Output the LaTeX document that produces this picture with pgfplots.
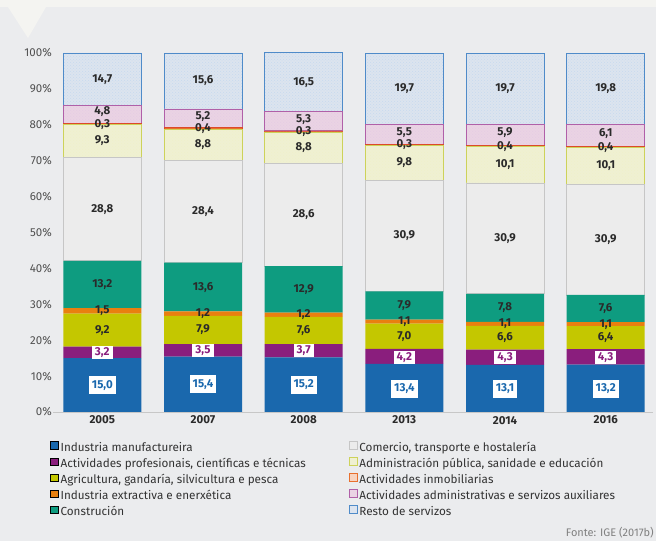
\documentclass[border=0pt]{standalone}
\usepackage{fontspec}
\setmainfont{Fira Sans}
\usepackage{pgfplots}
\pgfplotsset{compat=1.18}
\usetikzlibrary{patterns}

\definecolor{bg}{HTML}{EBECEE}
\definecolor{bgtop}{HTML}{F4F4F1}
\definecolor{cmanu}{HTML}{1A68AD}
\definecolor{cprof}{HTML}{8A1E7D}
\definecolor{cagri}{HTML}{C4C700}
\definecolor{cextr}{HTML}{E9800F}
\definecolor{ccons}{HTML}{0E9C80}
\definecolor{ccomf}{HTML}{ECECEC}
\definecolor{ccome}{HTML}{C6C6C6}
\definecolor{cadmf}{HTML}{EFF0D2}
\definecolor{cadme}{HTML}{CDD25A}
\definecolor{cinmf}{HTML}{E8702E}
\definecolor{cinme}{HTML}{DC4A2A}
\definecolor{cauxf}{HTML}{EAD3E4}
\definecolor{cauxe}{HTML}{B060A8}
\definecolor{cresf}{HTML}{DCE4EF}
\definecolor{crese}{HTML}{4F8BC9}
\definecolor{txt}{HTML}{2A2A2A}
\definecolor{ticktxt}{HTML}{505050}

\pgfplotsset{
  dotfill/.style 2 args={fill=#1, draw=#2, line width=0.9pt,
    postaction={pattern=crosshatch dots, pattern color=#2!32}},
  lbl/.style={draw=none, mark=none, forget plot, nodes near coords,
    point meta=explicit symbolic,
    every node near coord/.append style={anchor=center, inner sep=1pt,
      font=\fontsize{11.5}{13}\selectfont\bfseries, text=txt}},
  boxlbl/.style={draw=none, mark=none, forget plot, nodes near coords,
    point meta=explicit symbolic,
    every node near coord/.append style={anchor=center, fill=white,
      inner xsep=3pt, inner ysep=#1,
      font=\fontsize{11.5}{13}\selectfont\bfseries}},
}

\begin{document}
\begin{tikzpicture}[x=1pt,y=1pt]
\useasboundingbox (0,0) rectangle (656,541);
\fill[bg] (0,0) rectangle (656,541);
\fill[bgtop] (0,534) rectangle (656,541);
\fill[bgtop] (8,534) -- (46,534) -- (28,503) -- cycle;

\begin{axis}[
  at={(53pt,129pt)}, anchor=south west,
  scale only axis, width=600pt, height=359pt,
  xmin=-0.49, xmax=5.47, ymin=0, ymax=100,
  ybar stacked, bar width=78pt,
  separate axis lines,
  axis x line*=bottom, axis y line*=left,
  y axis line style={draw=none},
  x axis line style={-, draw=black!22, line width=0.8pt},
  major tick length=0pt,
  xtick={0,1,2,3,4,5},
  xticklabels={2005,2007,2008,2013,2014,2016},
  ytick={0,10,20,30,40,50,60,70,80,90,100},
  yticklabels={0\%,10\%,20\%,30\%,40\%,50\%,60\%,70\%,80\%,90\%,100\%},
  xticklabel style={font=\fontsize{11.5}{13}\selectfont\bfseries, text=txt, yshift=-0.5pt},
  yticklabel style={font=\fontsize{11.5}{13}\selectfont, text=ticktxt, inner sep=1pt},
  clip=false,
]
% Industria manufactureira
\addplot[fill=cmanu, draw=none] coordinates {(0,15.0) (1,15.4) (2,15.2) (3,13.4) (4,13.1) (5,13.2)};
% Actividades profesionais
\addplot[fill=cprof, draw=none] coordinates {(0,3.2) (1,3.5) (2,3.7) (3,4.2) (4,4.3) (5,4.3)};
% Agricultura
\addplot[fill=cagri, draw=none] coordinates {(0,9.2) (1,7.9) (2,7.6) (3,7.0) (4,6.6) (5,6.4)};
% Industria extractiva
\addplot[fill=cextr, draw=none] coordinates {(0,1.5) (1,1.2) (2,1.2) (3,1.1) (4,1.1) (5,1.1)};
% Construcion
\addplot[fill=ccons, draw=none] coordinates {(0,13.2) (1,13.6) (2,12.9) (3,7.9) (4,7.8) (5,7.6)};
% Comercio
\addplot[dotfill={ccomf}{ccome}] coordinates {(0,28.8) (1,28.4) (2,28.6) (3,30.9) (4,30.9) (5,30.9)};
% Administracion publica
\addplot[dotfill={cadmf}{cadme}] coordinates {(0,9.3) (1,8.8) (2,8.8) (3,9.8) (4,10.1) (5,10.1)};
% Actividades inmobiliarias
\addplot[fill=cinmf, draw=cinme, line width=0.6pt] coordinates {(0,0.3) (1,0.4) (2,0.3) (3,0.3) (4,0.4) (5,0.4)};
% Actividades administrativas
\addplot[dotfill={cauxf}{cauxe}] coordinates {(0,4.8) (1,5.2) (2,5.3) (3,5.5) (4,5.9) (5,6.1)};
% Resto de servizos
\addplot[dotfill={cresf}{crese}] coordinates {(0,14.7) (1,15.6) (2,16.5) (3,19.7) (4,19.7) (5,19.8)};
\end{axis}

\begin{axis}[
  at={(53pt,129pt)}, anchor=south west,
  scale only axis, width=600pt, height=359pt,
  xmin=-0.49, xmax=5.47, ymin=0, ymax=100,
  hide axis, clip=false,
  legend columns=2,
  legend cell align=left,
  legend style={at={(axis description cs:-0.005,-0.081)}, anchor=north west,
    draw=none, fill=none, inner sep=0pt, row sep=2.3pt,
    font=\fontsize{11.7}{13}\selectfont, text=black!80,
    nodes={inner xsep=2pt, inner ysep=1.5pt, text height=8pt, text depth=2.5pt}},
  legend image code/.code={\draw[#1] (0pt,-1.2pt) rectangle (8pt,6.6pt);},
]
\addlegendimage{fill=cmanu, draw=none}
\addlegendentry{\makebox[286pt][l]{Industria manufactureira}}
\addlegendimage{fill=ccomf, draw=ccome, line width=0.8pt}
\addlegendentry{Comercio, transporte e hostalería}
\addlegendimage{fill=cprof, draw=none}
\addlegendentry{\makebox[286pt][l]{Actividades profesionais, científicas e técnicas}}
\addlegendimage{fill=cadmf, draw=cadme, line width=0.8pt}
\addlegendentry{Administración pública, sanidade e educación}
\addlegendimage{fill=cagri, draw=none}
\addlegendentry{\makebox[286pt][l]{Agricultura, gandaría, silvicultura e pesca}}
\addlegendimage{fill=cinmf!30, draw=cinmf, line width=0.8pt}
\addlegendentry{Actividades inmobiliarias}
\addlegendimage{fill=cextr, draw=none}
\addlegendentry{\makebox[286pt][l]{Industria extractiva e enerxética}}
\addlegendimage{fill=cauxf, draw=cauxe, line width=0.8pt}
\addlegendentry{Actividades administrativas e servizos auxiliares}
\addlegendimage{fill=ccons, draw=none}
\addlegendentry{\makebox[286pt][l]{Construción}}
\addlegendimage{fill=cresf, draw=crese, line width=0.8pt}
\addlegendentry{Resto de servizos}

% plain labels (centres of the segments)
\addplot[lbl] table[meta=lab] {
x y lab
0 22.8 9,2
1 22.85 7,9
2 22.7 7,6
3 21.1 7,0
4 20.7 6,6
5 20.7 6,4
0 28.15 1,5
1 27.4 1,2
2 27.1 1,2
3 25.15 1,1
4 24.55 1,1
5 24.45 1,1
0 35.5 13,2
1 34.8 13,6
2 34.15 12,9
3 29.65 7,9
4 29.0 7,8
5 28.8 7,6
0 56.5 28,8
1 55.8 28,4
2 54.9 28,6
3 49.05 30,9
4 48.35 30,9
5 48.05 30,9
0 75.55 9,3
1 74.4 8,8
2 73.6 8,8
3 69.4 9,8
4 68.85 10,1
5 68.55 10,1
0 80.2 0,3
1 79.0 0,4
2 78.1 0,3
3 74.5 0,3
4 74.0 0,4
5 73.7 0,4
0 83.6 4,8
1 82.4 5,2
2 81.6 5,3
3 77.9 5,5
4 77.9 5,9
5 77.7 6,1
0 92.65 14,7
1 92.2 15,6
2 91.85 16,5
3 90.2 19,7
4 90.05 19,7
5 90.0 19,8
};
% boxed labels
\addplot[boxlbl=4pt, every node near coord/.append style={text=cmanu}] table[meta=lab] {
x y lab
0 7.5 15,0
1 7.7 15,4
2 7.6 15,2
3 6.5 13,4
4 6.4 13,1
5 6.5 13,2
};
\addplot[boxlbl=1.5pt, every node near coord/.append style={text=cprof}] table[meta=lab] {
x y lab
0 16.5 3,2
1 17.0 3,5
2 17.0 3,7
3 15.2 4,2
4 15.1 4,3
5 15.2 4,3
};
\end{axis}

\node[anchor=east, text=black!50, font=\fontsize{11}{12}\selectfont, inner sep=0pt] at (654,8.5) {Fonte: IGE (2017b)};
\end{tikzpicture}
\end{document}
